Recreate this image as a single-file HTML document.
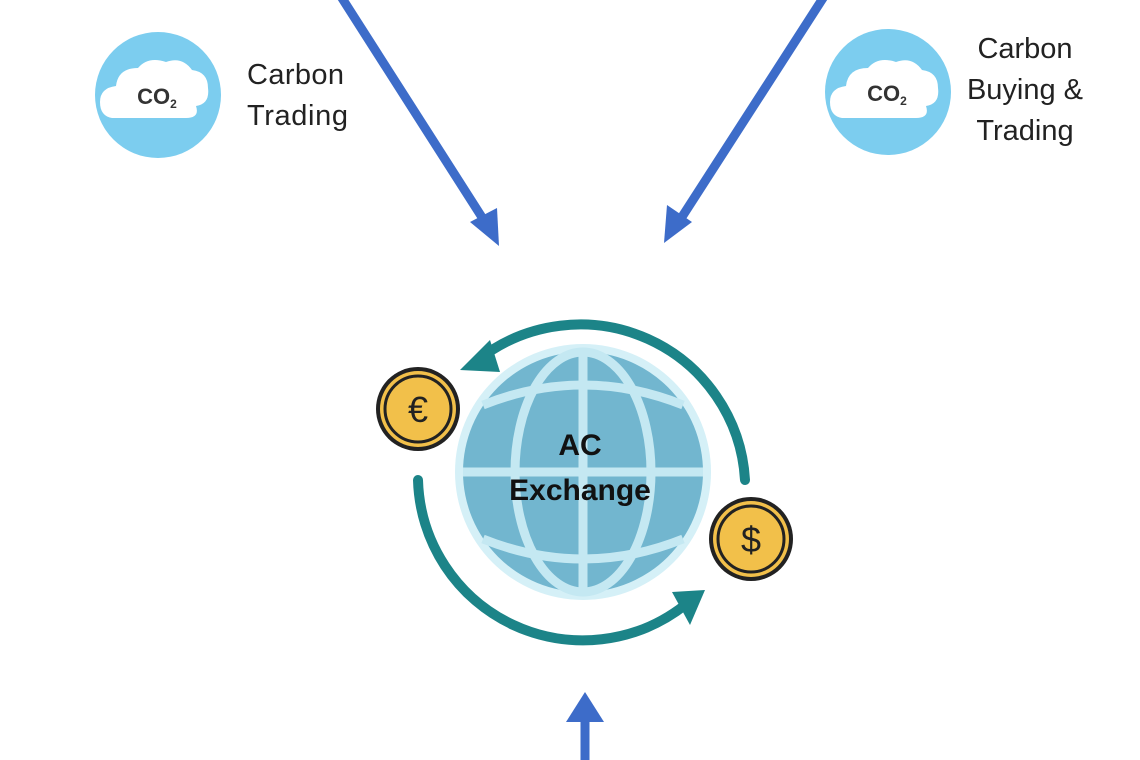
<!DOCTYPE html>
<html><head><meta charset="utf-8"><style>
html,body{margin:0;padding:0;background:#fff;}
svg{display:block}
text{font-family:"Liberation Sans",sans-serif}
</style></head><body>
<svg width="1140" height="760" viewBox="0 0 1140 760" xmlns="http://www.w3.org/2000/svg">
<rect width="1140" height="760" fill="#fff"/>
<!-- blue arrows -->
<g stroke="#3d6cc9" stroke-width="9" fill="#3d6cc9">
<line x1="340" y1="-5" x2="485" y2="222"/>
<line x1="825" y1="-5" x2="680" y2="220"/>
<line x1="585" y1="760" x2="585" y2="718"/>
</g>
<g fill="#3d6cc9">
<polygon points="499,246 470,222 497,208"/>
<polygon points="664,243 667,205 692,222"/>
<polygon points="585,692 566,722 604,722"/>
</g>
<!-- left cloud -->
<circle cx="158" cy="95" r="63" fill="#7ccdef"/>
<path d="M112,118 q-12,-2 -12,-16 q0,-14 16,-16 q2,-18 22,-18 q10,-12 28,-6 q16,-6 26,8 q16,2 16,18 q2,16 -12,18 q4,12 -10,12 z" fill="#fff"/>
<text x="157" y="104" font-size="22" font-weight="bold" fill="#333" text-anchor="middle">CO<tspan font-size="12" dy="4">2</tspan></text>
<text x="247" y="84" font-size="29" fill="#222" textLength="97">Carbon</text>
<text x="247" y="125" font-size="29" fill="#222" textLength="101">Trading</text>
<!-- right cloud -->
<circle cx="888" cy="92" r="63" fill="#7ccdef"/>
<path d="M842,118 q-12,-2 -12,-16 q0,-14 16,-16 q2,-18 22,-18 q10,-12 28,-6 q16,-6 26,8 q16,2 16,18 q2,16 -12,18 q4,12 -10,12 z" fill="#fff"/>
<text x="887" y="101" font-size="22" font-weight="bold" fill="#333" text-anchor="middle">CO<tspan font-size="12" dy="4">2</tspan></text>
<text x="1025" y="58" font-size="29" fill="#222" text-anchor="middle">Carbon</text>
<text x="1025" y="99" font-size="29" fill="#222" text-anchor="middle">Buying &amp;</text>
<text x="1025" y="140" font-size="29" fill="#222" text-anchor="middle">Trading</text>
<!-- globe -->
<circle cx="583" cy="472" r="128" fill="#d5f0f7"/>
<circle cx="583" cy="472" r="120" fill="#72b6cf"/>
<g stroke="#c4e8f2" stroke-width="9" fill="none">
<line x1="583" y1="352" x2="583" y2="592"/>
<ellipse cx="583" cy="472" rx="68" ry="120"/>
<line x1="463" y1="472" x2="703" y2="472"/>
<path d="M483,405 q100,-40 200,0"/>
<path d="M483,539 q100,40 200,0"/>
</g>
<text x="580" y="455" font-size="30" font-weight="bold" fill="#111" text-anchor="middle">AC</text>
<text x="580" y="500" font-size="30" font-weight="bold" fill="#111" text-anchor="middle">Exchange</text>
<!-- teal arcs -->
<g stroke="#1c8488" stroke-width="10" fill="none" stroke-linecap="round">
<path d="M745,480 A165,165 0 0 0 478,360"/>
<path d="M418,480 A165,165 0 0 0 685,605"/>
</g>
<g fill="#1c8488">
<polygon points="460,370 490,340 500,372"/>
<polygon points="705,590 672,592 690,625"/>
</g>
<!-- coins -->
<circle cx="418" cy="409" r="42" fill="#222"/>
<circle cx="418" cy="409" r="38" fill="#f2c04a"/>
<circle cx="418" cy="409" r="33" fill="none" stroke="#222" stroke-width="3"/>
<text x="418" y="422" font-size="36" fill="#222" text-anchor="middle">€</text>
<circle cx="751" cy="539" r="42" fill="#222"/>
<circle cx="751" cy="539" r="38" fill="#f2c04a"/>
<circle cx="751" cy="539" r="33" fill="none" stroke="#222" stroke-width="3"/>
<text x="751" y="552" font-size="36" fill="#222" text-anchor="middle">$</text>
</svg>
</body></html>
